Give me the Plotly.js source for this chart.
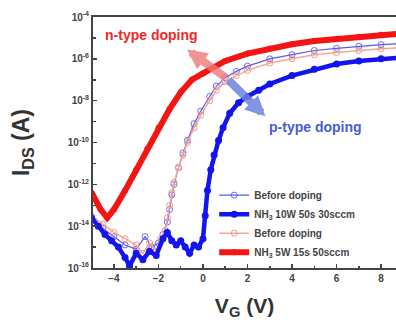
<!DOCTYPE html>
<html><head><meta charset="utf-8">
<script src="https://cdn.plot.ly/plotly-3.0.1.min.js"></script>
<style>html,body{margin:0;padding:0;background:#fff}#chart{width:396px;height:325px}</style>
</head><body><div id="chart"></div>
<script>
// Gate voltage (V) and log10(I_DS / A)
const vBeforeBlue = [-5,-4.5,-4,-3.5,-3,-2.6,-2.3,-2,-1.8,-1.6,-1.5,-1.4,-1.3,-1.1,-0.9,-0.7,-0.4,-0.1,0.3,0.6,1,1.5,2,3,4,5,6,7,8,8.8];
const logBeforeBlue = [-13.7,-14.1,-14.5,-14.9,-15.1,-14.5,-15.0,-14.8,-14.4,-13.8,-13.2,-12.5,-12.0,-11.2,-10.5,-9.9,-9.1,-8.5,-7.8,-7.3,-6.9,-6.6,-6.35,-6.0,-5.8,-5.6,-5.5,-5.4,-5.32,-5.28];

const vDopedBlue = [-5,-4.7,-4.4,-4.1,-3.8,-3.5,-3.3,-3,-2.7,-2.4,-2.1,-1.8,-1.6,-1.4,-1.2,-1,-0.8,-0.6,-0.4,-0.2,0,0.1,0.2,0.35,0.5,0.7,0.9,1.2,1.6,2,2.5,3,4,5,6,7,8,8.8];
const logDopedBlue = [-13.6,-14.0,-14.4,-14.7,-15.0,-15.5,-15.9,-15.3,-15.6,-15.2,-15.4,-14.6,-14.3,-14.7,-14.9,-14.7,-15.0,-15.3,-14.9,-15.0,-14.6,-13.5,-12.3,-11.3,-10.6,-9.9,-9.3,-8.6,-8.1,-7.8,-7.5,-7.2,-6.8,-6.5,-6.25,-6.1,-6.0,-5.95];

const vBeforeRed = [-5,-4.5,-4,-3.5,-3,-2.7,-2.4,-2.1,-1.9,-1.7,-1.6,-1.5,-1.4,-1.3,-1.1,-0.9,-0.7,-0.4,-0.1,0.3,0.6,1,1.5,2,3,4,5,6,7,8,8.8];
const logBeforeRed = [-13.5,-13.9,-14.3,-14.6,-14.9,-15.3,-14.8,-15.2,-14.6,-14.2,-13.6,-13.0,-12.4,-11.9,-11.2,-10.6,-10.0,-9.3,-8.7,-8.0,-7.5,-7.1,-6.8,-6.55,-6.2,-6.0,-5.8,-5.7,-5.6,-5.52,-5.48];

const vDopedRed = [-5,-4.6,-4.3,-4,-3.5,-3,-2.5,-2,-1.5,-1,-0.5,0,1,2,3,4,5,6,7,8,8.8];
const logDopedRed = [-12.4,-13.2,-13.6,-13.2,-12.3,-11.3,-10.3,-9.3,-8.4,-7.6,-7.0,-6.7,-6.1,-5.75,-5.5,-5.3,-5.15,-5.05,-4.95,-4.85,-4.8];

const seriesNames = ['Before doping','NH<sub>3</sub> 10W 50s 30sccm','Before doping','NH<sub>3</sub> 5W 15s 50sccm'];
const yTickVals = [1e-16,1e-14,1e-12,1e-10,1e-8,1e-6,1e-4];
const yTickText = ['10<sup>-16</sup>','10<sup>-14</sup>','10<sup>-12</sup>','10<sup>-10</sup>','10<sup>-8</sup>','10<sup>-6</sup>','10<sup>-4</sup>'];
const xTickVals = [-4,-2,0,2,4,6,8];

const toI = a => a.map(v => Math.pow(10, v));

const data = [
  {x: vBeforeBlue, y: toI(logBeforeBlue), name: seriesNames[0], mode: 'lines+markers', legendrank: 1,
   line: {color: '#5a5ae6', width: 1.2}, marker: {symbol: 'circle-open', size: 6, color: '#6a6af0', line: {width: 1}}},
  {x: vBeforeRed, y: toI(logBeforeRed), name: seriesNames[2], mode: 'lines+markers', legendrank: 3,
   line: {color: '#f4a898', width: 1.5}, marker: {symbol: 'circle-open', size: 6, color: '#f29a8a', line: {width: 1}}},
  {x: vDopedBlue, y: toI(logDopedBlue), name: seriesNames[1], mode: 'lines+markers', legendrank: 2,
   line: {color: '#1414f0', width: 4.5}, marker: {symbol: 'circle', size: 7, color: '#1414f0'}},
  {x: vDopedRed, y: toI(logDopedRed), name: seriesNames[3], mode: 'lines+markers', legendrank: 4,
   line: {color: '#f51414', width: 6}, marker: {symbol: 'circle', size: 6, color: '#f51414'}}
];

const F = '"Liberation Sans", Arial, sans-serif';
const layout = {
  width: 396, height: 325,
  margin: {l: 93, r: 0, t: 17, b: 57},
  paper_bgcolor: '#fff', plot_bgcolor: '#fff',
  font: {family: F, color: '#333'},
  showlegend: true,
  legend: {x: 0.40, y: 0.348, xanchor: 'left', yanchor: 'top', bgcolor: 'rgba(0,0,0,0)',
           font: {size: 10, family: F, weight: 'bold', color: '#444'}, tracegroupgap: 0, itemwidth: 30},
  xaxis: {range: [-4.94, 8.67], tickvals: xTickVals, ticks: 'inside', ticklen: 4, tickwidth: 1.5,
          showline: true, linewidth: 2, linecolor: '#444', mirror: true, showgrid: false, zeroline: false,
          minor: {dtick: 1, ticks: 'inside', ticklen: 2, tickcolor: '#444'},
          tickfont: {size: 10, family: F, weight: 'bold', color: '#444'},
          title: {text: 'V<sub>G</sub> (V)', font: {size: 21, family: F, weight: 'bold', color: '#333'}, standoff: 15}},
  yaxis: {type: 'log', range: [-16, -4], tickvals: yTickVals, ticktext: yTickText, ticks: 'inside', ticklen: 4, tickwidth: 1.5,
          showline: true, linewidth: 2, linecolor: '#444', showgrid: false, zeroline: false,
          minor: {tickvals: [1e-15,1e-13,1e-11,1e-9,1e-7,1e-5], ticks: 'inside', ticklen: 3, tickcolor: '#444'},
          tickfont: {size: 10, family: F, weight: 'bold', color: '#444'},
          title: {text: 'I<sub>DS</sub> (A)', font: {size: 23, family: F, weight: 'bold', color: '#333'}, standoff: 32}},
  annotations: [
    {xref: 'paper', yref: 'paper', x: 0.033, y: 0.93, xanchor: 'left', yanchor: 'middle', showarrow: false,
     text: 'n-type doping', font: {size: 14, family: F, weight: 'bold', color: '#f02828'}},
    {xref: 'paper', yref: 'paper', x: 0.575, y: 0.562, xanchor: 'left', yanchor: 'middle', showarrow: false,
     text: 'p-type doping', font: {size: 14, family: F, weight: 'bold', color: '#4a5cd8'}},
    {xref: 'x', yref: 'y', x: -0.72, y: -5.55, axref: 'x', ayref: 'y', ax: 1.08, ay: -6.95, text: '',
     showarrow: true, arrowhead: 2, arrowsize: 0.5, arrowwidth: 8, arrowcolor: 'rgba(240,120,120,0.8)'},
    {xref: 'x', yref: 'y', x: 2.8, y: -8.75, axref: 'x', ayref: 'y', ax: 1.08, ay: -6.95, text: '',
     showarrow: true, arrowhead: 2, arrowsize: 0.5, arrowwidth: 8, arrowcolor: 'rgba(110,130,225,0.85)'}
  ]
};
Plotly.newPlot('chart', data, layout, {displayModeBar: false, staticPlot: true});
</script></body></html>
